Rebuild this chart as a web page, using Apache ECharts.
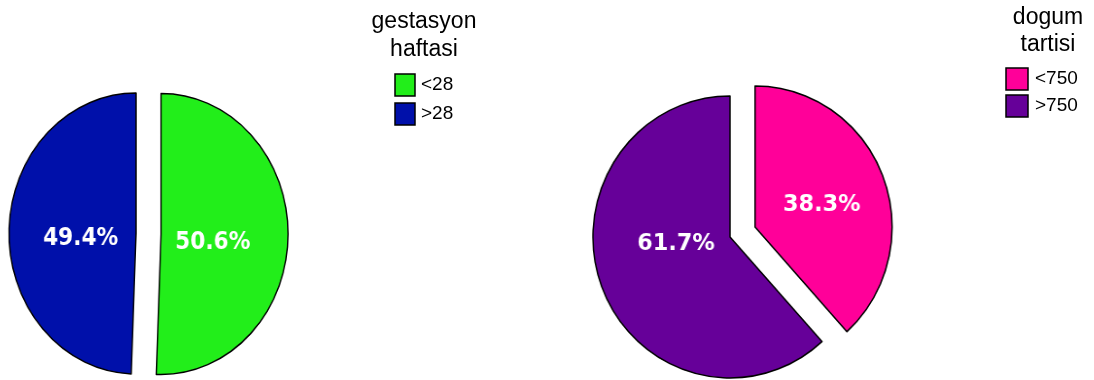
<!DOCTYPE html>
<html>
<head>
<meta charset="utf-8">
<script src="https://cdn.jsdelivr.net/npm/echarts@6/dist/echarts.min.js"></script>
<style>
  html, body { margin: 0; padding: 0; background: #fff; }
  #wrap { position: relative; width: 1094px; height: 380px; overflow: hidden; background: #fff; }
  .layer { position: absolute; left: 0; top: 0; width: 1094px; height: 380px; }
  /* the two pies are drawn slightly narrower than tall; the left layer
     starts off-screen so the squeezed pie is not cut at the canvas edge */
  #pieGest { left: -60px; width: 1154px; transform: scaleX(0.904); transform-origin: 196px 233.5px; }
  #pieWeight { transform: scaleX(0.972); transform-origin: 730px 237px; }
</style>
</head>
<body>
<div id="wrap">
  <div id="pieGest" class="layer"></div>
  <div id="pieWeight" class="layer"></div>
  <div id="keys" class="layer"></div>
</div>
<script>
// gestasyon haftasi
const gestTitle = 'gestasyon\nhaftasi';
const gestCategories = ['<28', '>28'];
const gestValues = [50.6, 49.4];
const gestColors = ['#22ee1a', '#0010aa'];

// dogum tartisi
const weightTitle = 'dogum\ntartisi';
const weightCategories = ['<750', '>750'];
const weightValues = [38.3, 61.7];
const weightColors = ['#ff0099', '#660099'];

const FONT = '"Liberation Sans", Arial, Helvetica, sans-serif';
const LABEL_FONT = '"DejaVu Sans", "Liberation Sans", Arial, sans-serif';

function pieOption(categories, values, colors, cfg) {
  return {
    animation: false,
    series: [{
      type: 'pie',
      center: cfg.center,
      radius: cfg.radius,
      startAngle: 90,
      clockwise: true,
      selectedMode: 'single',
      selectedOffset: cfg.offset,
      avoidLabelOverlap: false,
      silent: true,
      label: {
        show: true,
        position: 'inside',
        formatter: p => p.value.toFixed(1) + '%',
        color: '#fff',
        fontWeight: 'bold',
        fontSize: cfg.fontSize,
        fontFamily: LABEL_FONT
      },
      labelLine: { show: false },
      labelLayout: p => ({ dx: cfg.labelShift[p.dataIndex][0], dy: cfg.labelShift[p.dataIndex][1] }),
      itemStyle: { borderColor: '#000', borderWidth: 1.5 },
      emphasis: { disabled: true },
      data: categories.map((name, i) => ({
        name: name,
        value: values[i],
        selected: i === 0,
        itemStyle: { color: colors[i] }
      }))
    }]
  };
}

echarts.init(document.getElementById('pieGest'), null, { renderer: 'canvas' }).setOption(
  pieOption(gestCategories, gestValues, gestColors, {
    center: [196, 233.5], radius: 140.5, offset: 27.7, fontSize: 24,
    labelShift: [[-16, 7], [12, 7]]
  })
);

echarts.init(document.getElementById('pieWeight'), null, { renderer: 'canvas' }).setOption(
  pieOption(weightCategories, weightValues, weightColors, {
    center: [730, 237], radius: 141, offset: 27.6, fontSize: 23,
    labelShift: [[0, 4], [13, -19]]
  })
);

// titles and colour keys
function keyElements(title, categories, colors, pos) {
  const els = [];
  title.split('\n').forEach((line, i) => {
    els.push({
      type: 'text', x: pos.titleX, y: pos.titleY + i * pos.lineGap,
      style: { text: line, align: 'center', verticalAlign: 'middle', fontSize: 23, fontFamily: FONT, fill: '#000' }
    });
  });
  categories.forEach((name, i) => {
    const y = pos.boxY + i * pos.step;
    els.push({
      type: 'rect',
      shape: { x: pos.boxX, y: y, width: pos.boxW, height: pos.boxH },
      style: { fill: colors[i], stroke: '#000', lineWidth: 1.5 }
    });
    els.push({
      type: 'text', x: pos.textX, y: y + pos.boxH / 2,
      style: { text: name, align: 'left', verticalAlign: 'middle', fontSize: 19, fontFamily: FONT, fill: '#000' }
    });
  });
  return els;
}

echarts.init(document.getElementById('keys'), null, { renderer: 'canvas' }).setOption({
  animation: false,
  graphic: {
    elements: keyElements(gestTitle, gestCategories, gestColors, {
      titleX: 424, titleY: 22, lineGap: 28,
      boxX: 395, boxY: 74, boxW: 20, boxH: 22, step: 29, textX: 421
    }).concat(keyElements(weightTitle, weightCategories, weightColors, {
      titleX: 1048, titleY: 18, lineGap: 27,
      boxX: 1006, boxY: 68, boxW: 22, boxH: 22, step: 27, textX: 1035
    }))
  }
});
</script>
</body>
</html>
